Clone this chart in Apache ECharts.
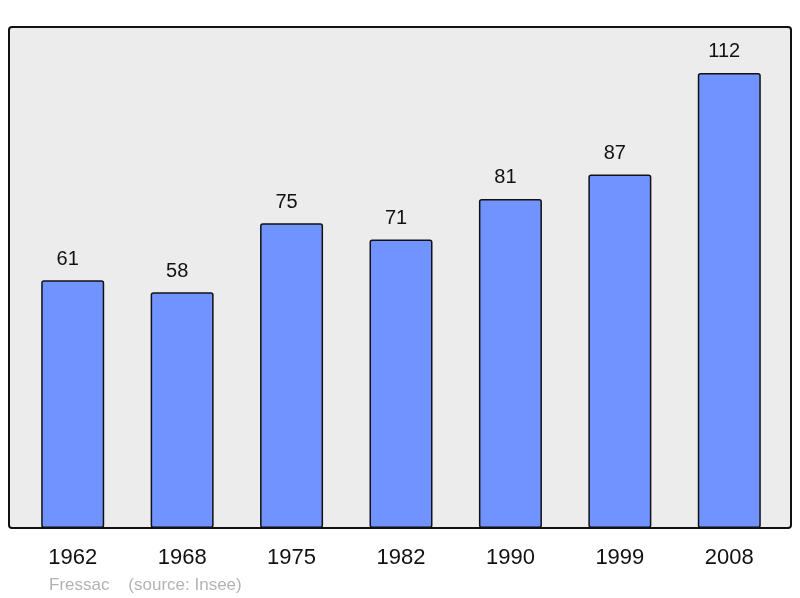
<!DOCTYPE html>
<html>
<head>
<meta charset="utf-8">
<script src="https://cdn.jsdelivr.net/npm/echarts@6/dist/echarts.min.js"></script>
<style>
html, body { margin: 0; padding: 0; background: #fff; }
#main { width: 800px; height: 598px; }
</style>
</head>
<body>
<div id="main"></div>
<script>
// population par recensement
var years = ['1962', '1968', '1975', '1982', '1990', '1999', '2008'];
var population = [61, 58, 75, 71, 81, 87, 112];
var commune = 'Fressac';
var source = '(source: Insee)';

var myChart = echarts.init(document.getElementById('main'));

var option = {
    backgroundColor: '#ffffff',
    animation: false,
    graphic: [
        {
            type: 'rect',
            shape: { x: 9, y: 27, width: 782, height: 501, r: 3 },
            style: { fill: '#ececec', stroke: '#111', lineWidth: 2 },
            z: -10
        },
        {
            type: 'text',
            left: 49,
            top: 577,
            style: {
                text: commune + '    ' + source,
                fill: '#b3b3b3',
                font: '17px "Liberation Sans", Arial, sans-serif'
            }
        }
    ],
    grid: {
        left: 18,
        width: 766,
        top: 27,
        height: 501
    },
    xAxis: {
        type: 'category',
        data: years,
        axisLine: { show: false },
        axisTick: { show: false },
        axisLabel: {
            margin: 19,
            color: '#111',
            fontSize: 22,
            fontFamily: 'Liberation Sans'
        }
    },
    yAxis: {
        type: 'value',
        min: 0,
        max: 123.3,
        show: false,
        splitLine: { show: false }
    },
    series: [{
        type: 'bar',
        data: population,
        barWidth: 63,
        itemStyle: {
            color: '#7093ff',
            borderColor: '#111',
            borderWidth: 1.5,
            borderRadius: 2
        },
        label: {
            show: true,
            position: 'top',
            distance: 11,
            offset: [-5, 0],
            color: '#111',
            fontSize: 20,
            fontFamily: 'Liberation Sans'
        }
    }]
};

myChart.setOption(option);
</script>
</body>
</html>
